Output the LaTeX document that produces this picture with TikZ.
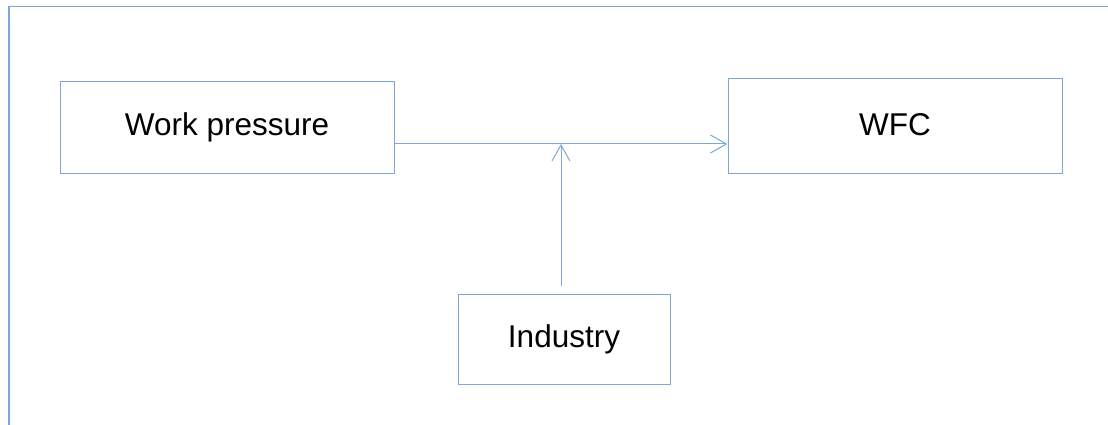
\documentclass[tikz,border=0pt]{standalone}
\usepackage{fontspec}
\setmainfont{Liberation Sans}
\usetikzlibrary{arrows.meta}
\definecolor{lineblue}{HTML}{7EA6DA}
\tikzset{
  box/.style={draw=lineblue, line width=1pt, minimum width=#1, inner sep=0pt, font=\fontsize{31.5}{36}\selectfont, text=black},
  conn/.style={draw=lineblue, line width=1pt, -{Straight Barb[length=16pt,width=18pt,line width=1pt]}}
}
\begin{document}
\begin{tikzpicture}[x=1pt,y=-1pt]
\useasboundingbox (0,0) rectangle (1108,425);
\draw[lineblue, line width=1.4pt] (9,425) -- (9,6.5) -- (1108,6.5);
\node[box=334pt, minimum height=91pt] (wp) at (227,127.5) {Work pressure};
\node[box=334pt, minimum height=94pt, text depth=2pt] (wfc) at (895,126) {WFC};
\node[box=212pt, minimum height=90pt] (ind) at (564,339) {Industry};
\coordinate (mid) at (561,144);
\draw[conn] (wp.east |- mid) -- (wfc.west |- mid);
\draw[conn] ([yshift=8pt]ind.north -| mid) -- (mid);
\end{tikzpicture}
\end{document}
